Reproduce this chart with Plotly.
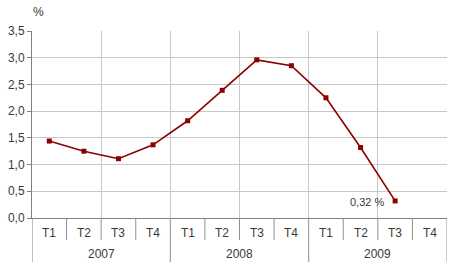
import plotly.graph_objects as go

years = ["2007", "2008", "2009"]
quarters = ["T1", "T2", "T3", "T4"]
values = [1.44, 1.25, 1.11, 1.37, 1.82, 2.39, 2.96, 2.85, 2.25, 1.32, 0.32, None]
last_label = "0,32 %"
y_unit = "%"

W, H = 450, 280
ml, mr, mt, mb = 32, 3, 31, 62
ph = H - mt - mb

n = len(years) * len(quarters)
xs = [i + 0.5 for i in range(n)]

fig = go.Figure()
fig.add_trace(go.Scatter(
    x=xs, y=values, mode="lines+markers",
    line=dict(color="#8b0000", width=1.6),
    marker=dict(symbol="square", size=5, color="#8b0000"),
    connectgaps=False, hoverinfo="skip", showlegend=False,
))

font = dict(family="Liberation Sans, Arial, sans-serif", size=12, color="#3a3a3a")

def py(px):
    return -px / ph

shapes = []
for i in range(n + 1):
    long = i % len(quarters) == 0
    if i == 0:
        continue
    shapes.append(dict(type="line", xref="x", yref="paper", x0=i, x1=i,
                       y0=0, y1=py(44 if long else 22),
                       line=dict(color="#909090", width=1)))
# left axis extension
shapes.append(dict(type="line", xref="x", yref="paper", x0=0, x1=0,
                   y0=0, y1=py(44), line=dict(color="#808080", width=1)))

annotations = []
for yi, yr in enumerate(years):
    for qi, q in enumerate(quarters):
        idx = yi * len(quarters) + qi
        annotations.append(dict(x=xs[idx], y=py(15), xref="x", yref="paper",
                                text=q, showarrow=False, font=font,
                                xanchor="center", yanchor="middle"))
    annotations.append(dict(x=yi * len(quarters) + len(quarters) / 2, y=py(36),
                            xref="x", yref="paper", text=yr, showarrow=False,
                            font=font, xanchor="center", yanchor="middle"))
annotations.append(dict(x=6 / 415, y=1 + 19 / ph, xref="paper", yref="paper",
                        text=y_unit, showarrow=False, font=font,
                        xanchor="center", yanchor="middle"))
last_idx = max(i for i, v in enumerate(values) if v is not None)
annotations.append(dict(x=xs[last_idx], y=values[last_idx], xref="x", yref="y",
                        text=last_label, showarrow=False,
                        font=dict(family=font["family"], size=11, color=font["color"]),
                        xanchor="right", yanchor="middle", xshift=-9, yshift=-1))

fig.update_layout(
    width=W, height=H,
    margin=dict(l=ml, r=mr, t=mt, b=mb),
    paper_bgcolor="white", plot_bgcolor="white",
    separators=", ",
    font=font,
    xaxis=dict(range=[0, n], tickvals=list(range(0, n + 1, 2)), showticklabels=False,
               showgrid=True, gridcolor="#c8c8c8", gridwidth=1, zeroline=False,
               showline=True, linecolor="#808080", linewidth=1, ticks="",
               fixedrange=True),
    yaxis=dict(range=[0, 3.5], dtick=0.5, tick0=0, tickformat=".1f",
               showgrid=True, gridcolor="#c8c8c8", gridwidth=1, zeroline=False,
               showline=True, linecolor="#808080", linewidth=1,
               ticks="outside", ticklen=4, tickcolor="#808080",
               tickfont=font, fixedrange=True),
    shapes=shapes, annotations=annotations,
)

fig.write_html("out.html")
